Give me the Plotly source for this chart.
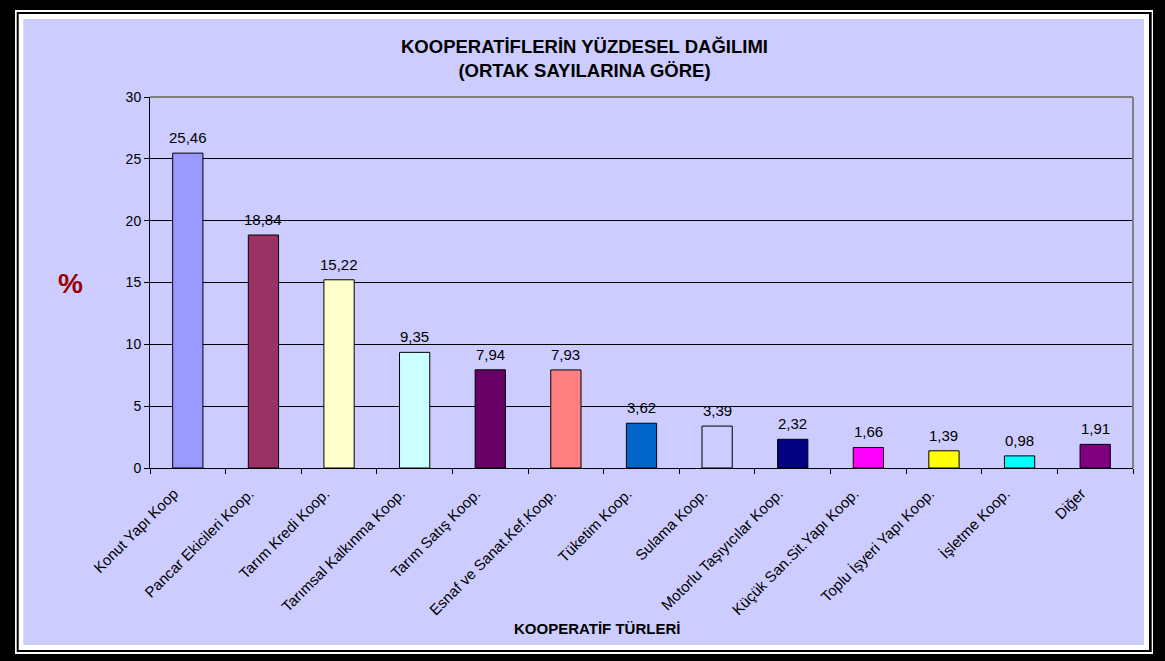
import plotly.graph_objects as go

categories = ["Konut Yapı Koop", "Pancar Ekicileri Koop.", "Tarım Kredi Koop.",
              "Tarımsal Kalkınma Koop.", "Tarım Satış Koop.", "Esnaf ve Sanat.Kef.Koop.",
              "Tüketim Koop.", "Sulama Koop.", "Motorlu Taşıyıcılar Koop.",
              "Küçük San.Sit.Yapı Koop.", "Toplu İşyeri Yapı Koop.", "İşletme Koop.", "Diğer"]
values = [25.46, 18.84, 15.22, 9.35, 7.94, 7.93, 3.62, 3.39, 2.32, 1.66, 1.39, 0.98, 1.91]
colors = ["#9999FF", "#993366", "#FFFFCC", "#CCFFFF", "#660066", "#FF8080", "#0066CC",
          "#CCCCFF", "#000080", "#FF00FF", "#FFFF00", "#00FFFF", "#800080"]
y_ticks = [0, 5, 10, 15, 20, 25, 30]

W, H = 1165, 661
L, R, T, B = 150, 1133, 97, 468

def px(x):
    return (x - L) / (R - L)

def py(y):
    return (B - y) / (B - T)

FONT = "Arial, Liberation Sans, sans-serif"

fig = go.Figure()
fig.add_trace(go.Bar(
    x=categories, y=values,
    marker=dict(color=colors, line=dict(color="black", width=1)),
    width=0.4,
    hoverinfo="x+y",
))

shapes = []
def rect(x0, y0, x1, y1, color):
    shapes.append(dict(type="rect", xref="paper", yref="paper",
                       x0=px(x0), x1=px(x1), y0=py(y0), y1=py(y1),
                       fillcolor=color, line=dict(width=0), layer="below"))

rect(15, 10, 1153, 654, "white")
rect(16.7, 12, 1151.7, 652, "black")
rect(18.7, 14, 1149, 650, "white")
rect(23.3, 19, 1144, 645, "#CCCCFF")
shapes.append(dict(type="line", xref="paper", yref="paper", x0=0, x1=1, y0=1, y1=1,
                   line=dict(color="#808080", width=2)))
shapes.append(dict(type="line", xref="paper", yref="paper", x0=1, x1=1, y0=0, y1=1,
                   line=dict(color="#808080", width=2)))

annotations = [
    dict(text="<b>KOOPERATİFLERİN YÜZDESEL DAĞILIMI<br>(ORTAK SAYILARINA GÖRE)</b>",
         xref="paper", yref="paper", x=px(584), y=py(58), showarrow=False,
         font=dict(family=FONT, size=18.5, color="black"), align="center",
         xanchor="center", yanchor="middle"),
    dict(text="<b>%</b>", xref="paper", yref="paper", x=px(70), y=py(283),
         showarrow=False, font=dict(family=FONT, size=28, color="#990000"),
         xanchor="center", yanchor="middle"),
    dict(text="<b>KOOPERATİF TÜRLERİ</b>", xref="paper", yref="paper",
         x=px(597), y=py(628), showarrow=False,
         font=dict(family=FONT, size=15, color="black"),
         xanchor="center", yanchor="middle"),
]
for c, v in zip(categories, values):
    annotations.append(dict(
        x=c, y=v, xref="x", yref="y", text=f"{v:.2f}".replace(".", ","),
        showarrow=False, yanchor="bottom", xanchor="center", yshift=5,
        font=dict(family=FONT, size=15, color="black")))

fig.update_layout(
    width=W, height=H,
    margin=dict(l=L, r=W - R, t=T, b=H - B, pad=0),
    paper_bgcolor="black",
    plot_bgcolor="#C0C0C0",
    separators=",.",
    showlegend=False,
    shapes=shapes,
    annotations=annotations,
    xaxis=dict(
        type="category", tickangle=-45, tickson="boundaries",
        ticks="outside", ticklen=5, tickcolor="black",
        showline=True, linecolor="black", linewidth=1,
        tickfont=dict(family=FONT, size=15, color="black"),
        ticklabelstandoff=10, ticklabelshift=-14,
        showgrid=False,
    ),
    yaxis=dict(
        range=[0, 30], tickvals=y_ticks, ticks="outside", ticklen=5, tickcolor="black",
        showline=True, linecolor="black", linewidth=1,
        showgrid=True, gridcolor="black", gridwidth=1,
        tickfont=dict(family=FONT, size=14, color="black"),
        zeroline=False,
    ),
)

fig.write_html("out.html", config={"displayModeBar": False},
               post_script="document.body.style.margin='0';document.body.style.overflow='hidden';")
